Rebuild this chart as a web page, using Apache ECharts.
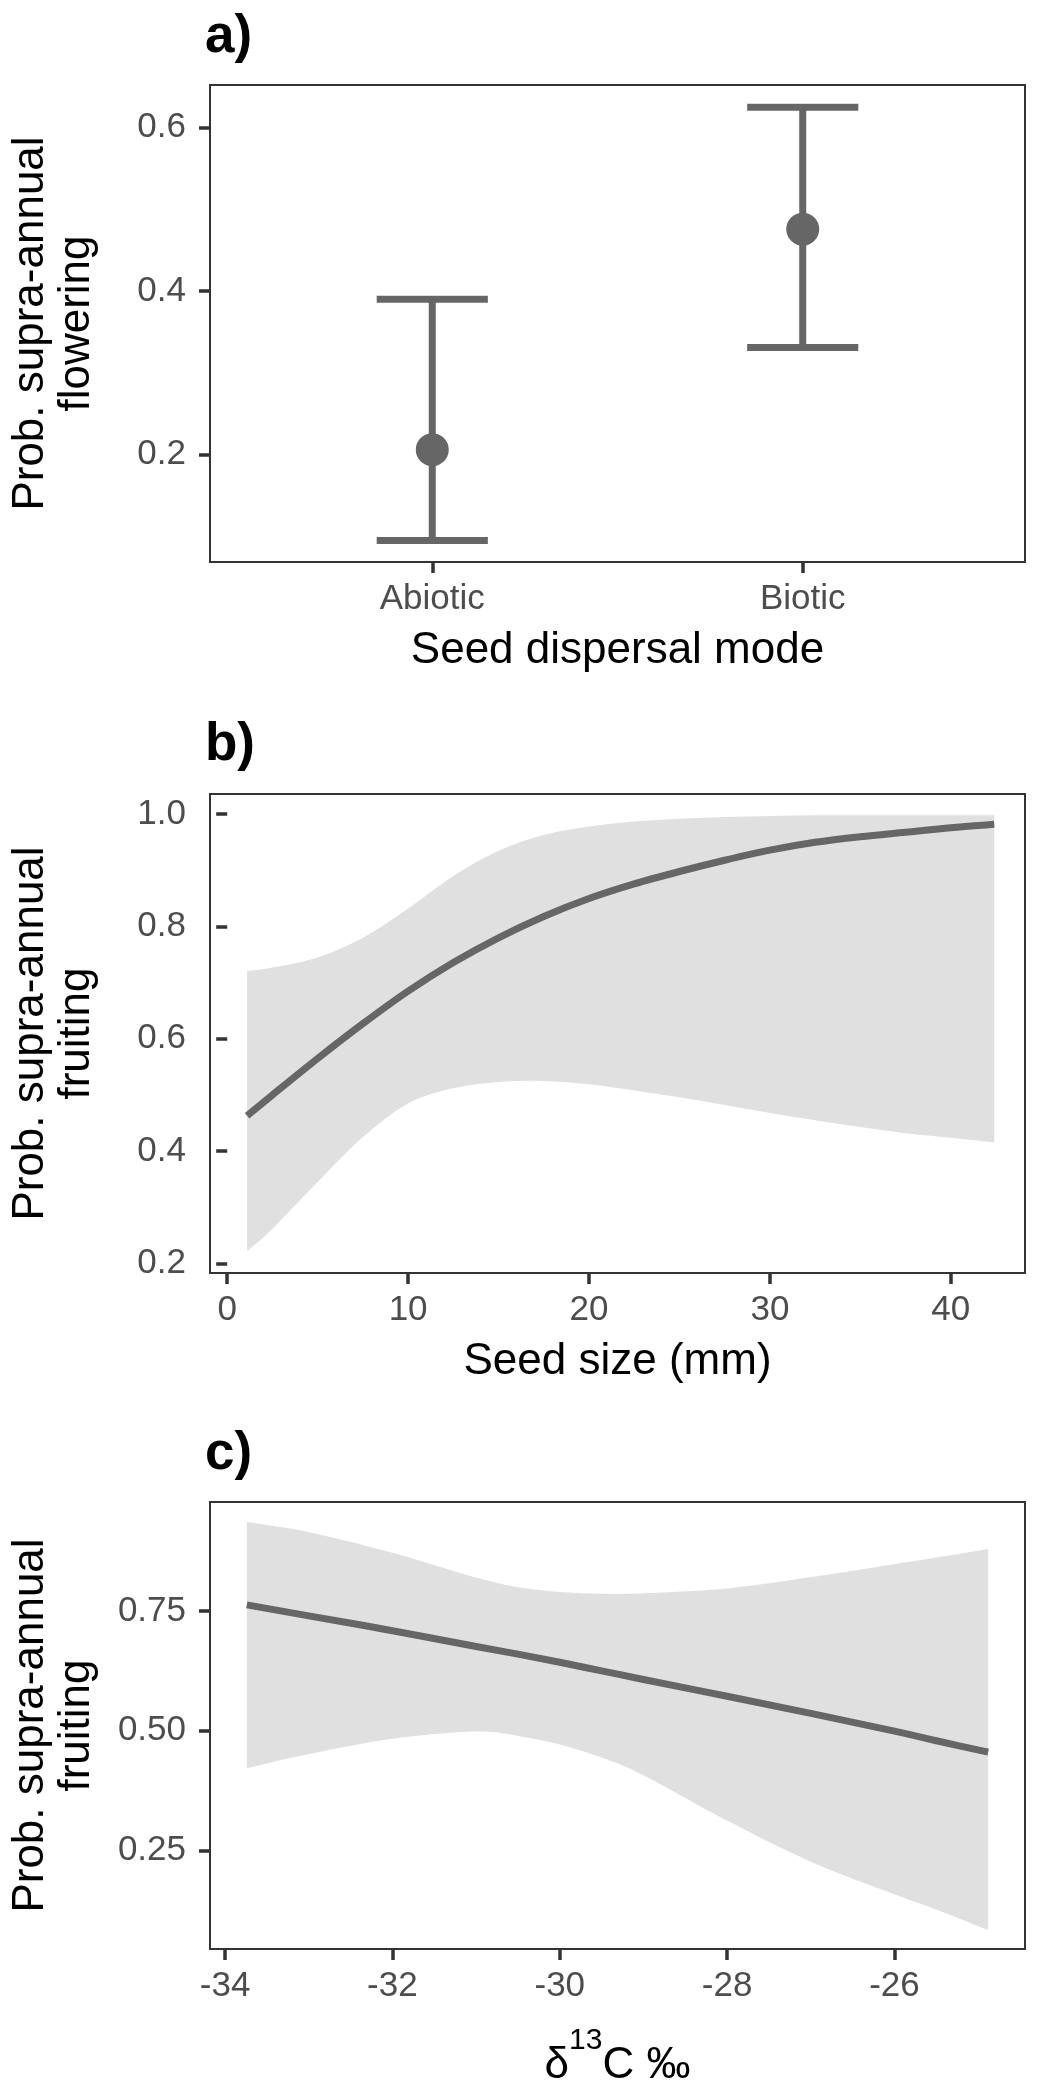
<!DOCTYPE html>
<html>
<head>
<meta charset="utf-8">
<script src="https://cdn.jsdelivr.net/npm/echarts@6/dist/echarts.min.js"></script>
<style>
  html, body { margin: 0; padding: 0; background: #ffffff; }
  #chart { width: 1037px; height: 2089px; }
</style>
</head>
<body>
<div id="chart"></div>
<script>
// ---------- Panel a: supra-annual flowering by seed dispersal mode ----------
const dispersalModes = ['Abiotic', 'Biotic'];
const floweringMid  = [0.206, 0.4755];
const floweringLow  = [0.095, 0.331];
const floweringHigh = [0.3897, 0.6245];

// ---------- Panel b: supra-annual fruiting vs seed size ----------
const seedSize  = [1.1, 2.5, 5, 7.5, 10, 12.5, 15, 17.5, 20, 22.5, 25, 27.5, 30, 32.5, 35, 37.5, 40, 42.4];
const seedFit   = [0.463, 0.500, 0.565, 0.627, 0.685, 0.736, 0.780, 0.818, 0.850, 0.876, 0.898, 0.918, 0.936, 0.950, 0.960, 0.968, 0.976, 0.982];
const seedUpper = [0.721, 0.727, 0.745, 0.780, 0.832, 0.890, 0.935, 0.963, 0.978, 0.987, 0.992, 0.995, 0.997, 0.998, 0.998, 0.998, 0.998, 0.998];
const seedLower = [0.222, 0.262, 0.345, 0.425, 0.485, 0.512, 0.523, 0.525, 0.519, 0.508, 0.496, 0.482, 0.468, 0.455, 0.443, 0.432, 0.424, 0.416];

// ---------- Panel c: supra-annual fruiting vs d13C ----------
const d13C      = [-33.74, -33, -32, -31, -30.5, -30, -29.5, -29, -28, -27, -26, -25.5, -24.88];
const d13cFit   = [0.763, 0.740, 0.709, 0.676, 0.660, 0.643, 0.625, 0.607, 0.572, 0.536, 0.499, 0.479, 0.455];
const d13cUpper = [0.936, 0.915, 0.872, 0.820, 0.800, 0.790, 0.786, 0.787, 0.797, 0.821, 0.848, 0.862, 0.880];
const d13cLower = [0.421, 0.451, 0.483, 0.498, 0.489, 0.471, 0.444, 0.407, 0.312, 0.226, 0.158, 0.126, 0.083];

// ---------- tick values ----------
const ticksAX = [1, 2];
const ticksAY = [0.2, 0.4, 0.6];
const ticksBX = [0, 10, 20, 30, 40];
const ticksBY = [0.2, 0.4, 0.6, 0.8, 1.0];
const ticksCX = [-34, -32, -30, -28, -26];
const ticksCY = [0.25, 0.50, 0.75];

const FONT = '"Liberation Sans", Arial, Helvetica, sans-serif';
const INK = '#666666';
const RIBBON = '#E0E0E0';

const chart = echarts.init(document.getElementById('chart'), null, { renderer: 'canvas' });

function makeGrid(top, height) {
  return { left: 207, right: 12, top: top, height: height, show: true,
           borderColor: '#333333', borderWidth: 2, backgroundColor: 'transparent', containLabel: false };
}

function baseAxis(gridIndex, min, max, ticks, fmt, extra) {
  return Object.assign({
    type: 'value', gridIndex: gridIndex, min: min, max: max,
    axisLine: { show: false },
    splitLine: { show: false },
    axisTick: { show: true, length: 11, customValues: ticks, lineStyle: { color: '#333333', width: 3.5 } },
    axisLabel: { show: true, customValues: ticks, formatter: fmt, color: '#4D4D4D',
                 fontSize: 35, fontFamily: FONT, margin: 20 },
    nameLocation: 'middle',
    nameTextStyle: { color: '#000000', fontSize: 44, fontFamily: FONT, lineHeight: 46 }
  }, extra || {});
}

function yAxisDef(gridIndex, min, max, ticks, fmt, name) {
  const a = baseAxis(gridIndex, min, max, ticks, fmt, { name: name, nameGap: 110, nameRotate: 90 });
  a.axisLabel.margin = 24;
  return a;
}

// smooth cubic path through pixel points (Catmull-Rom -> Bezier)
function curveThrough(pts) {
  let s = '';
  const n = pts.length;
  for (let i = 0; i < n - 1; i++) {
    const p0 = pts[Math.max(i - 1, 0)], p1 = pts[i], p2 = pts[i + 1], p3 = pts[Math.min(i + 2, n - 1)];
    const c1x = p1[0] + (p2[0] - p0[0]) / 6, c1y = p1[1] + (p2[1] - p0[1]) / 6;
    const c2x = p2[0] - (p3[0] - p1[0]) / 6, c2y = p2[1] - (p3[1] - p1[1]) / 6;
    s += ' C' + c1x + ' ' + c1y + ' ' + c2x + ' ' + c2y + ' ' + p2[0] + ' ' + p2[1];
  }
  return s;
}

// confidence ribbon between lower and upper bounds, positioned by the axes' scales
function ribbonSeries(axisIdx, xs, upper, lower) {
  return {
    type: 'custom', xAxisIndex: axisIdx, yAxisIndex: axisIdx, silent: true, z: 1,
    data: xs.map((x, i) => [x, lower[i], upper[i]]),
    encode: { x: 0, y: [1, 2] },
    renderItem: function (params, api) {
      if (params.dataIndex !== 0) return null;
      const up = xs.map((x, i) => api.coord([x, upper[i]]));
      const lo = xs.map((x, i) => api.coord([x, lower[i]])).reverse();
      const d = 'M' + up[0][0] + ' ' + up[0][1] + curveThrough(up) +
                ' L' + lo[0][0] + ' ' + lo[0][1] + curveThrough(lo) + ' Z';
      return { type: 'path', shape: { pathData: d }, style: { fill: RIBBON, stroke: null } };
    }
  };
}

// fitted curve, positioned by the axes' scales
function fitSeries(axisIdx, xs, ys) {
  return {
    type: 'custom', xAxisIndex: axisIdx, yAxisIndex: axisIdx, silent: true, z: 3,
    data: xs.map((x, i) => [x, ys[i]]),
    encode: { x: 0, y: 1 },
    renderItem: function (params, api) {
      if (params.dataIndex !== 0) return null;
      const pts = xs.map((x, i) => api.coord([x, ys[i]]));
      const d = 'M' + pts[0][0] + ' ' + pts[0][1] + curveThrough(pts);
      return { type: 'path', shape: { pathData: d },
               style: { fill: null, stroke: INK, lineWidth: 7, lineCap: 'butt', lineJoin: 'round' } };
    }
  };
}

const titleStyle = { fontSize: 53, fontWeight: 'bold', color: '#000000', fontFamily: FONT };

const option = {
  backgroundColor: '#ffffff',
  animation: false,
  title: [
    { text: 'a)', left: 205, top: 11, padding: 0, textStyle: titleStyle },
    { text: 'b)', left: 205, top: 719, padding: 0, textStyle: titleStyle },
    { text: 'c)', left: 205, top: 1428, padding: 0, textStyle: titleStyle }
  ],
  grid: [ makeGrid(85, 477), makeGrid(794, 479), makeGrid(1502, 463) ],
  xAxis: [
    baseAxis(0, 0.4, 2.6, ticksAX, v => dispersalModes[Math.round(v) - 1],
             { name: 'Seed dispersal mode', nameGap: 66 }),
    baseAxis(1, -0.95, 44.1, ticksBX, v => String(v),
             { name: 'Seed size (mm)', nameGap: 66 }),
    baseAxis(2, -34.18, -24.44, ticksCX, v => String(v),
             { name: '{m|δ}{s|13}{m|C ‰}', nameGap: 77,
               nameTextStyle: { rich: {
                 m: { fontSize: 44, lineHeight: 62, verticalAlign: 'bottom', color: '#000000', fontFamily: FONT },
                 s: { fontSize: 30, lineHeight: 30, verticalAlign: 'top', color: '#000000', fontFamily: FONT }
               } } })
  ],
  yAxis: [
    yAxisDef(0, 0.0687, 0.6517, ticksAY, v => v.toFixed(1), 'Prob. supra-annual\nflowering'),
    yAxisDef(1, 0.183, 1.036, ticksBY, v => v.toFixed(1), 'Prob. supra-annual\nfruiting'),
    yAxisDef(2, 0.0436, 0.978, ticksCY, v => v.toFixed(2), 'Prob. supra-annual\nfruiting')
  ],
  series: [
    // ----- panel a: error bars -----
    {
      type: 'custom', xAxisIndex: 0, yAxisIndex: 0,
      data: dispersalModes.map((m, i) => [i + 1, floweringLow[i], floweringHigh[i]]),
      encode: { x: 0, y: [1, 2] },
      renderItem: function (params, api) {
        const x = api.value(0), lo = api.value(1), hi = api.value(2);
        const pHi = api.coord([x, hi]), pLo = api.coord([x, lo]);
        const cHiL = api.coord([x - 0.15, hi]), cHiR = api.coord([x + 0.15, hi]);
        const cLoL = api.coord([x - 0.15, lo]), cLoR = api.coord([x + 0.15, lo]);
        const st = { stroke: INK, lineWidth: 7, lineCap: 'butt' };
        return { type: 'group', children: [
          { type: 'line', shape: { x1: pHi[0], y1: pHi[1], x2: pLo[0], y2: pLo[1] }, style: st },
          { type: 'line', shape: { x1: cHiL[0], y1: cHiL[1], x2: cHiR[0], y2: cHiR[1] }, style: st },
          { type: 'line', shape: { x1: cLoL[0], y1: cLoL[1], x2: cLoR[0], y2: cLoR[1] }, style: st }
        ] };
      },
      z: 2
    },
    {
      type: 'scatter', xAxisIndex: 0, yAxisIndex: 0,
      data: dispersalModes.map((m, i) => [i + 1, floweringMid[i]]),
      symbol: 'circle', symbolSize: 33,
      itemStyle: { color: INK, opacity: 1 }, z: 3
    },
    // ----- panel b: ribbon + fit -----
    ribbonSeries(1, seedSize, seedUpper, seedLower),
    fitSeries(1, seedSize, seedFit),
    // ----- panel c: ribbon + fit -----
    ribbonSeries(2, d13C, d13cUpper, d13cLower),
    fitSeries(2, d13C, d13cFit)
  ]
};

chart.setOption(option);
</script>
</body>
</html>
